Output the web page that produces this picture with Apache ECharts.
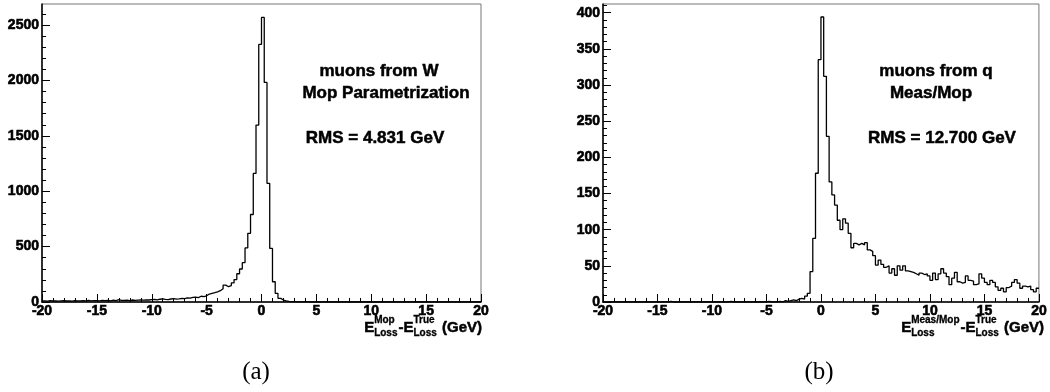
<!DOCTYPE html>
<html>
<head>
<meta charset="utf-8">
<script src="https://cdn.jsdelivr.net/npm/echarts@6/dist/echarts.min.js"></script>
<style>
  html, body { margin: 0; padding: 0; background: #fff; }
  #chart { width: 1050px; height: 392px; }
</style>
</head>
<body>
<div id="chart"></div>
<script>
// Histogram binning: 160 bins of 0.25 GeV from -20 to 20 GeV
const BIN_LO = -20;
const BIN_W = 0.25;

// (a) muons from W, Mop parametrization: entries per bin
const countsW = [
  10, 8, 12, 9, 11, 7, 10, 12, 9, 11,
  8, 13, 10, 9, 12, 11, 14, 10, 12, 13,
  11, 15, 12, 14, 10, 16, 13, 22, 15, 14,
  16, 13, 18, 15, 17, 19, 16, 20, 18, 21,
  23, 19, 25, 28, 24, 22, 27, 30, 26, 29,
  33, 30, 38, 35, 41, 44, 40, 52, 48, 56,
  72, 78, 84, 92, 102, 120, 152, 138, 148, 172,
  202, 255, 298, 355, 488, 620, 790, 1161, 1597, 2325,
  2569, 1982, 1071, 484, 183, 78, 33, 18, 10, 6,
  4, 3, 2, 2, 1, 1, 1, 0, 1, 0,
  1, 0, 0, 1, 0, 0, 0, 0, 1, 0,
  0, 0, 0, 0, 0, 0, 0, 0, 0, 0,
  0, 0, 1, 0, 0, 0, 0, 0, 0, 0,
  0, 0, 0, 0, 0, 0, 0, 0, 0, 0,
  0, 0, 0, 0, 0, 0, 0, 0, 0, 0,
  0, 0, 0, 0, 0, 0, 0, 0, 0, 0
];

// (b) muons from q, Meas/Mop: entries per bin
const countsQ = [
  0, 0, 0, 0, 0, 0, 0, 0, 0, 0,
  0, 0, 0, 0, 0, 0, 0, 0, 0, 0,
  0, 0, 0, 0, 1, 0, 0, 0, 0, 0,
  0, 0, 0, 0, 0, 0, 0, 0, 0, 0,
  0, 0, 0, 0, 0, 0, 1, 0, 0, 0,
  0, 0, 0, 0, 0, 0, 0, 0, 0, 0,
  1, 0, 0, 0, 1, 0, 2, 1, 2, 3,
  2, 4, 5, 4, 8, 12, 42, 88, 178, 335,
  394, 312, 229, 166, 148, 134, 113, 100, 115, 109,
  95, 75, 81, 79, 81, 79, 82, 72, 70, 64,
  51, 58, 52, 48, 50, 40, 46, 37, 50, 44,
  50, 43, 42, 41, 39, 37, 40, 38, 39, 36,
  30, 40, 31, 39, 46, 40, 35, 24, 33, 41,
  28, 26, 27, 36, 30, 29, 24, 25, 39, 33,
  27, 24, 30, 27, 21, 16, 19, 14, 20, 22,
  27, 31, 26, 19, 22, 21, 22, 17, 14, 19
];

// Axis ticks
const yMajorW = [0, 500, 1000, 1500, 2000, 2500];
const yMajorQ = [0, 50, 100, 150, 200, 250, 300, 350, 400];
const yStepMinorW = 100;
const yStepMinorQ = 10;
const yMaxW = 2690;
const yMaxQ = 412;

// Text
const notesW = ['muons from W', 'Mop Parametrization', 'RMS = 4.831 GeV'];
const notesQ = ['muons from q', 'Meas/Mop', 'RMS = 12.700 GeV'];
const titleW = ['E', { sup: 'Mop', sub: 'Loss' }, '-E', { sup: 'True', sub: 'Loss' }, ' (GeV)'];
const titleQ = ['E', { sup: 'Meas/Mop', sub: 'Loss' }, '-E', { sup: 'True', sub: 'Loss' }, ' (GeV)'];
const captions = ['(a)', '(b)'];

const FONT = '"Liberation Sans", Arial, Helvetica, sans-serif';
const SERIF = '"Liberation Serif", "DejaVu Serif", serif';
const LABEL_SIZE = 14;

function minorList(step, max) {
  const out = [];
  for (let v = 0; v <= max; v += step) out.push(v);
  return out;
}

function stepPoints(counts) {
  const pts = counts.map((c, i) => [BIN_LO + i * BIN_W, c]);
  pts.push([BIN_LO + counts.length * BIN_W, counts[counts.length - 1]]);
  return pts;
}

const grids = [
  { left: 42, top: 4, width: 439, height: 298 },
  { left: 603, top: 4, width: 440, height: 298 }
];

// Heavy tick labels: bold face plus a thin outline of the same colour
const labelRich = {
  b: {
    fontSize: LABEL_SIZE, fontWeight: 700, fontFamily: FONT, color: '#000',
    textBorderColor: '#000', textBorderWidth: 0.6
  }
};
const plain = v => '{b|' + v + '}';

function xAxisFor(gi) {
  return {
    type: 'value', gridIndex: gi, min: -20, max: 20, interval: 5,
    axisLine: { onZero: false, lineStyle: { color: '#000', width: 1.5 } },
    axisTick: { inside: true, length: 8, lineStyle: { color: '#000', width: 1 } },
    minorTick: { show: true, splitNumber: 5, length: 4, lineStyle: { color: '#000', width: 1 } },
    splitLine: { show: false },
    axisLabel: {
      margin: 2, fontSize: LABEL_SIZE, fontWeight: 700, fontFamily: FONT, color: '#000',
      formatter: plain, rich: labelRich
    }
  };
}

function yAxesFor(gi, major, minorStep, max) {
  return [
    {
      type: 'value', gridIndex: gi, position: 'left', min: 0, max: max,
      axisLine: { show: true, onZero: false, lineStyle: { color: '#000', width: 1.5 } },
      axisTick: { inside: true, length: 8, customValues: major, lineStyle: { color: '#000', width: 1 } },
      splitLine: { show: false },
      axisLabel: {
        margin: 3, fontSize: LABEL_SIZE, fontWeight: 700, fontFamily: FONT, color: '#000',
        customValues: major, formatter: plain, rich: labelRich
      }
    },
    {
      type: 'value', gridIndex: gi, position: 'left', min: 0, max: max,
      axisLine: { show: false, onZero: false },
      axisTick: { inside: true, length: 4, customValues: minorList(minorStep, max), lineStyle: { color: '#000', width: 1 } },
      splitLine: { show: false },
      axisLabel: { show: false }
    }
  ];
}

// Measure text so the axis-title pieces sit side by side, right-aligned
const mctx = document.createElement('canvas').getContext('2d');
function textW(s, size) {
  mctx.font = 'bold ' + size + 'px ' + FONT;
  return mctx.measureText(s).width;
}

function txt(x, y, s, size, align, family, weight, stroke) {
  const style = {
    text: s, fontSize: size, fontWeight: weight || 'bold', fontFamily: family || FONT,
    fill: '#000', align: align || 'left', verticalAlign: 'middle'
  };
  if (stroke) { style.stroke = '#000'; style.lineWidth = stroke; }
  return { type: 'text', x: x, y: y, silent: true, z: 100, style: style };
}

const MAIN = 15, SMALL = 10;
const Y_MAIN = 328, Y_SUP = 320, Y_SUB = 333;

function axisTitle(rightX, parts) {
  const widths = parts.map(p => typeof p === 'string'
    ? textW(p, MAIN)
    : Math.max(textW(p.sup, SMALL), textW(p.sub, SMALL)) + 1);
  let x = rightX - widths.reduce((a, b) => a + b, 0);
  const els = [];
  parts.forEach((p, k) => {
    if (typeof p === 'string') {
      els.push(txt(x, Y_MAIN, p, MAIN, 'left', FONT, 'bold', 0.5));
    } else {
      els.push(txt(x, Y_SUP, p.sup, SMALL, 'left', FONT, 'bold', 0.3));
      els.push(txt(x, Y_SUB, p.sub, SMALL, 'left', FONT, 'bold', 0.3));
    }
    x += widths[k];
  });
  return els;
}

const graphics = [
  txt(379, 71, notesW[0], 17, 'center', FONT, 'bold', 0.5),
  txt(386, 93, notesW[1], 17, 'center', FONT, 'bold', 0.5),
  txt(375, 138, notesW[2], 17, 'center', FONT, 'bold', 0.5),
  txt(936, 71, notesQ[0], 17, 'center', FONT, 'bold', 0.5),
  txt(931, 93, notesQ[1], 17, 'center', FONT, 'bold', 0.5),
  txt(942, 138, notesQ[2], 17, 'center', FONT, 'bold', 0.5),
  txt(256, 372, captions[0], 25, 'center', SERIF, 'normal'),
  txt(819, 372, captions[1], 25, 'center', SERIF, 'normal')
].concat(axisTitle(482, titleW), axisTitle(1044, titleQ));

const chart = echarts.init(document.getElementById('chart'), null, { renderer: 'canvas' });

const yW = yAxesFor(0, yMajorW, yStepMinorW, yMaxW);
const yQ = yAxesFor(1, yMajorQ, yStepMinorQ, yMaxQ);

chart.setOption({
  animation: false,
  backgroundColor: '#fff',
  grid: grids.map(g => Object.assign({ show: true, borderColor: '#777', borderWidth: 1, backgroundColor: 'transparent' }, g)),
  xAxis: [xAxisFor(0), xAxisFor(1)],
  yAxis: [yW[0], yW[1], yQ[0], yQ[1]],
  series: [
    {
      type: 'line', xAxisIndex: 0, yAxisIndex: 0, step: 'end', symbol: 'none',
      lineStyle: { color: '#000', width: 1.3 }, data: stepPoints(countsW)
    },
    {
      type: 'line', xAxisIndex: 1, yAxisIndex: 2, step: 'end', symbol: 'none',
      lineStyle: { color: '#000', width: 1.3 }, data: stepPoints(countsQ)
    }
  ],
  graphic: graphics
});
</script>
</body>
</html>
